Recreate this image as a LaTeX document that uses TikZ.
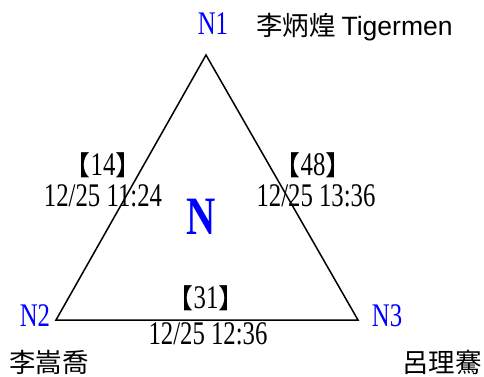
\documentclass[tikz,border=0pt]{standalone}
\usepackage{fontspec}
\setmainfont{Liberation Serif}
\newfontfamily\edgefont[FakeStretch=0.75]{Liberation Serif}
\newfontfamily\cjk{Noto Sans CJK TC}
\newfontfamily\arialfont{Liberation Sans}
\newcommand{\brk}[1]{{\cjk\fontsize{27}{27}\selectfont 【}#1{\cjk\fontsize{27}{27}\selectfont 】}}

\begin{document}
\begin{tikzpicture}[x=1pt,y=-1pt,
  vtx/.style={text=blue,inner sep=0pt,font=\edgefont\fontsize{33}{33}\selectfont},
  lbl/.style={inner sep=0pt,font=\edgefont\fontsize{33}{33}\selectfont},
  who/.style={inner sep=0pt,font=\cjk\fontsize{26.5}{26.5}\selectfont}]
\useasboundingbox (0,0) rectangle (484,376);
\coordinate (p1) at (206,55);\coordinate (p2) at (56,320);\coordinate (p3) at (358,320);
\draw[line width=1.5pt] (p1)--(p2)--(p3)--cycle;
% vertex names and owners
\node[vtx] (n1) at (213,24) {N1};
\node[vtx] (n2) at (35,316) {N2};
\node[vtx] (n3) at (387,316) {N3};
\node[who,anchor=west] (w1) at (256,27) {李炳煌 {\arialfont Tigermen}};
\node[who] (w2) at (49,362) {李嵩喬};
\node[who] (w3) at (442,362) {呂理騫};
\node[text=blue,inner sep=0pt,font=\edgefont\bfseries\fontsize{54}{54}\selectfont] (n) at (201,217) {N};
% edge labels
\foreach \nm/\x/\y/\c in {a/103/165/14,b/313/165/48,c/206/298/31} {
  \node[lbl] (c\nm) at (\x,\y) {\brk{\c}};
}
\node[lbl] (ta) at (103,196) {12/25 11:24};
\node[lbl] (tb) at (316,196) {12/25 13:36};
\node[lbl] (tc) at (208,334) {12/25 12:36};
\end{tikzpicture}
\end{document}
